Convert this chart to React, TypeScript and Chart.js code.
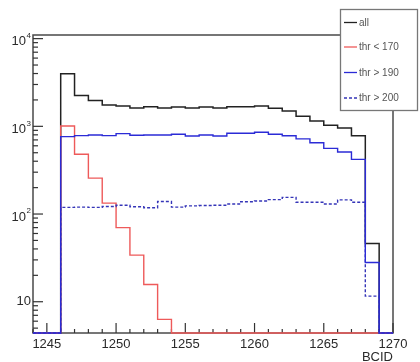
import React, { useEffect, useRef } from 'react';
import { Chart, registerables } from 'chart.js';

Chart.register(...registerables);

// Bin low edges (BCID), bin width 1
const BCID = [1244, 1245, 1246, 1247, 1248, 1249, 1250, 1251, 1252, 1253, 1254, 1255, 1256,
  1257, 1258, 1259, 1260, 1261, 1262, 1263, 1264, 1265, 1266, 1267, 1268, 1269];

const ALL = [0, 0, 3970, 2250, 1970, 1750, 1710, 1620, 1670, 1620, 1660, 1620, 1660,
  1620, 1670, 1670, 1700, 1610, 1500, 1300, 1150, 1030, 960, 780, 46, 0];

const THR_LT_170 = [0, 0, 1010, 481, 257, 133, 70, 34, 15.7, 6.3, 0, 0, 0,
  0, 0, 0, 0, 0, 0, 0, 0, 0, 0, 0, 0, 0];

const THR_GT_190 = [0, 0, 764, 783, 796, 783, 826, 790, 796, 796, 811, 776, 796,
  776, 833, 833, 855, 811, 780, 720, 650, 560, 510, 420, 28, 0];

const THR_GT_200 = [0, 0, 119, 120, 119, 122, 126, 121, 118, 139, 120, 124, 125,
  126, 130, 138, 141, 146, 155, 136, 136, 130, 145, 136, 11.6, 0];

const X_MAJOR_TICKS = [1245, 1250, 1255, 1260, 1265, 1270];
const Y_MAJOR_TICKS = [10, 100, 1000, 10000];
const Y_TICK_BASE = ['10', '10', '10', '10'];
const Y_TICK_EXP = ['', '2', '3', '4'];
const LEGEND_LABELS = ['all', 'thr < 170', 'thr > 190', 'thr > 200'];
const X_TITLE = 'BCID';

const X_MIN = 1244;
const X_MAX = 1270;
const Y_MIN = 4.4;
const Y_MAX = 11000;

const COLORS = ['#222222', '#ee5a5a', '#2b2bd6', '#3535b8'];
const DASHES: number[][] = [[], [], [], [3, 2]];

function toPoints(vals: number[]) {
  const pts = BCID.map((b, i) => ({ x: b, y: vals[i] > 0 ? vals[i] : Y_MIN }));
  const last = vals[vals.length - 1];
  pts.push({ x: BCID[BCID.length - 1] + 1, y: last > 0 ? last : Y_MIN });
  return pts;
}

const FONT = '"Liberation Sans", Arial, sans-serif';

const rootPlugin = {
  id: 'rootStyle',
  beforeDatasetsDraw(chart: any) {
    const ctx = chart.ctx;
    const { left, right, top, bottom } = chart.chartArea;
    const xs = chart.scales.x;
    const ys = chart.scales.y;
    ctx.save();
    ctx.strokeStyle = '#4a4a4a';
    ctx.lineWidth = 1.5;
    ctx.strokeRect(left, top, right - left, bottom - top);
    // x ticks
    ctx.lineWidth = 1.2;
    ctx.strokeStyle = '#333';
    for (let v = X_MIN; v <= X_MAX; v++) {
      const px = xs.getPixelForValue(v);
      const major = X_MAJOR_TICKS.includes(v);
      ctx.beginPath();
      ctx.moveTo(px, bottom);
      ctx.lineTo(px, bottom - (major ? 10 : 4));
      ctx.stroke();
    }
    // y ticks
    for (let d = 1; d <= 10000; d *= 10) {
      for (let m = 1; m <= 9; m++) {
        const v = d * m;
        if (v < Y_MIN || v > Y_MAX) continue;
        const py = ys.getPixelForValue(v);
        const major = Y_MAJOR_TICKS.includes(v);
        ctx.beginPath();
        ctx.moveTo(left, py);
        ctx.lineTo(left + (major ? 10 : 5), py);
        ctx.stroke();
      }
    }
    ctx.restore();
  },
  afterDraw(chart: any) {
    const ctx = chart.ctx;
    const { bottom, right } = chart.chartArea;
    const xs = chart.scales.x;
    const ys = chart.scales.y;
    ctx.save();
    ctx.fillStyle = '#2a2a2a';
    // x labels
    ctx.font = `13px ${FONT}`;
    ctx.textAlign = 'center';
    ctx.textBaseline = 'middle';
    X_MAJOR_TICKS.forEach((v) => {
      ctx.fillText(String(v), xs.getPixelForValue(v), bottom + 11);
    });
    // x title
    ctx.textAlign = 'right';
    ctx.fillText(X_TITLE, right, bottom + 24);
    // y labels
    Y_MAJOR_TICKS.forEach((v, i) => {
      const py = ys.getPixelForValue(v);
      const exp = Y_TICK_EXP[i];
      const xRight = 31;
      if (exp) {
        ctx.font = `8px ${FONT}`;
        const ew = ctx.measureText(exp).width;
        ctx.textAlign = 'right';
        ctx.textBaseline = 'middle';
        ctx.fillText(exp, xRight, py - 3);
        ctx.font = `13px ${FONT}`;
        ctx.fillText(Y_TICK_BASE[i], xRight - ew - 0.5, py + 3);
      } else {
        ctx.font = `13px ${FONT}`;
        ctx.textAlign = 'right';
        ctx.textBaseline = 'middle';
        ctx.fillText(Y_TICK_BASE[i], xRight, py);
      }
    });
    // legend box
    const bx = 340.5, by = 9.5, bw = 77, bh = 101;
    ctx.fillStyle = '#ffffff';
    ctx.fillRect(bx, by, bw, bh);
    ctx.strokeStyle = '#777';
    ctx.lineWidth = 1.3;
    ctx.strokeRect(bx, by, bw, bh);
    const rows = [22.5, 47, 72.5, 98];
    LEGEND_LABELS.forEach((lab, i) => {
      ctx.save();
      ctx.strokeStyle = COLORS[i];
      ctx.lineWidth = 1.3;
      ctx.setLineDash(DASHES[i]);
      ctx.beginPath();
      ctx.moveTo(344, rows[i]);
      ctx.lineTo(357, rows[i]);
      ctx.stroke();
      ctx.restore();
      ctx.fillStyle = '#555';
      ctx.font = `10px ${FONT}`;
      ctx.textAlign = 'left';
      ctx.textBaseline = 'middle';
      ctx.fillText(lab, 359, rows[i] + 0.5);
    });
    ctx.restore();
  },
};

export default function App() {
  const ref = useRef<HTMLCanvasElement | null>(null);
  useEffect(() => {
    if (!ref.current) return;
    const series = [ALL, THR_LT_170, THR_GT_190, THR_GT_200];
    const orders = [3, 2, 0, 1];
    const chart = new Chart(ref.current, {
      type: 'line',
      data: {
        datasets: series.map((vals, i) => ({
          label: LEGEND_LABELS[i],
          data: toPoints(vals),
          borderColor: COLORS[i],
          borderWidth: i === 0 ? 1.5 : 1.4,
          borderDash: DASHES[i],
          stepped: true,
          pointRadius: 0,
          fill: false,
          order: orders[i],
          clip: 4,
        })),
      },
      options: {
        animation: false,
        responsive: false,
        maintainAspectRatio: false,
        events: [],
        layout: { padding: { left: 0, top: 35, right: 27, bottom: 0 } },
        plugins: { legend: { display: false }, tooltip: { enabled: false } },
        scales: {
          x: {
            type: 'linear',
            min: X_MIN,
            max: X_MAX,
            grid: { display: false },
            border: { display: false },
            ticks: { display: false },
            afterFit: (s: any) => { s.height = 29; },
          },
          y: {
            type: 'logarithmic',
            min: Y_MIN,
            max: Y_MAX,
            grid: { display: false },
            border: { display: false },
            ticks: { display: false },
            afterFit: (s: any) => { s.width = 33; },
          },
        },
      },
      plugins: [rootPlugin],
    } as any);
    return () => chart.destroy();
  }, []);
  return (
    <div style={{ position: 'fixed', left: 0, top: 0, width: 420, height: 362, background: '#fff' }}>
      <canvas ref={ref} width={420} height={362} style={{ display: 'block' }} />
    </div>
  );
}
